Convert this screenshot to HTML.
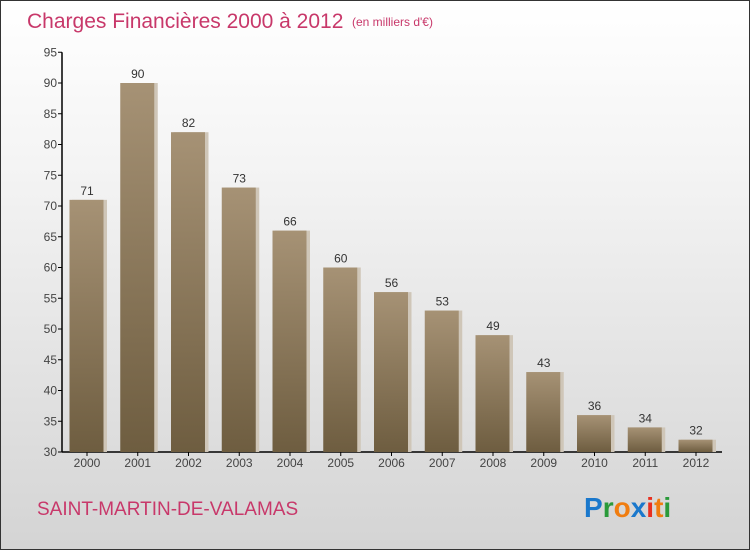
<!DOCTYPE html>
<html><head><meta charset="utf-8"><style>
body{margin:0}
#c{position:relative;width:748px;height:548px;border:1px solid #333;background:linear-gradient(#ffffff,#f4f4f4 30%,#d4d4d4);font-family:"Liberation Sans",sans-serif;overflow:hidden}
text{font-family:"Liberation Sans",sans-serif}
</style></head><body>
<div id="c">
<svg id="s" width="748" height="548">
<defs><linearGradient id="g" x1="0" y1="0" x2="0" y2="1"><stop offset="0" stop-color="#a69275"/><stop offset="1" stop-color="#6e5d40"/></linearGradient></defs>
<text x="26" y="27" font-size="21" fill="#c8386a">Charges Financières 2000 à 2012</text>
<text x="351" y="25" font-size="12" fill="#c8386a">(en milliers d'€)</text>
<text x="36" y="514" font-size="19" fill="#c8386a">SAINT-MARTIN-DE-VALAMAS</text>
<g font-size="28" font-weight="bold">
<text x="583" y="516"><tspan fill="#1a78cc">P</tspan><tspan fill="#2a9a3a">r</tspan><tspan fill="#f07d10">o</tspan><tspan fill="#1a78cc">x</tspan><tspan fill="#e83020">i</tspan><tspan fill="#f07d10">t</tspan><tspan fill="#2a9a3a">i</tspan></text></g>
<g id="plot"></g>
</svg></div>
<script>
const years=["2000","2001","2002","2003","2004","2005","2006","2007","2008","2009","2010","2011","2012"];
const values=[71,90,82,73,66,60,56,53,49,43,36,34,32];
const yTicks=[30,35,40,45,50,55,60,65,70,75,80,85,90,95];
const NS="http://www.w3.org/2000/svg";
const g=document.getElementById('plot');
const y=v=>451-(v-30)*(451-82)/60;
const x=i=>86+i*50.75;
function mk(t,a,p){const e=document.createElementNS(NS,t);for(const k in a)e.setAttribute(k,a[k]);(p||g).appendChild(e);return e;}
const ax=mk('line',{x1:61,y1:y(95),x2:61,y2:451,stroke:'#000','stroke-width':1.5});


const xa=mk('line',{x1:61,y1:451,x2:721,y2:451,stroke:'#000','stroke-width':1.5});


yTicks.forEach(v=>{
 const t=mk('line',{x1:57,y1:y(v),x2:61,y2:y(v),stroke:'#000'});
 
 
 const l=mk('text',{x:56,y:y(v)+4,'text-anchor':'end','font-size':12,fill:'#444'});
 l.textContent=v;
 
 
});
values.forEach((v,i)=>{
 const sh=mk('rect',{x:x(i)-17+2,y:y(v),width:35,height:451-y(v),fill:'#cfc6b8'});
 
 
 const b=mk('rect',{x:x(i)-17.5,y:y(v),width:34,height:451-y(v),fill:'url(#g)'});
 
 
 const l=mk('text',{x:x(i),y:y(v)-5,'text-anchor':'middle','font-size':12,fill:'#333'});
 l.textContent=v;
 
 
 const t=mk('line',{x1:x(i),y1:451,x2:x(i),y2:455,stroke:'#000'});
 
 
 const xl=mk('text',{x:x(i),y:466,'text-anchor':'middle','font-size':12,fill:'#444'});
 xl.textContent=years[i];
 
 
});
</script>
</body></html>
